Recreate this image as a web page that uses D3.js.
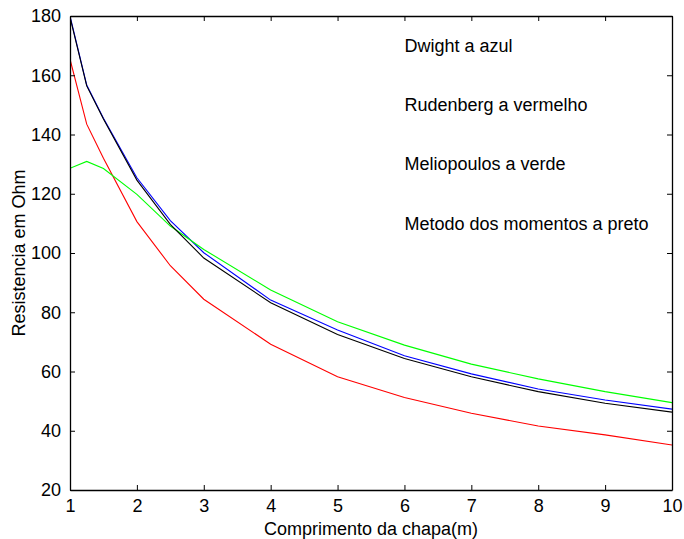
<!DOCTYPE html>
<html>
<head>
<meta charset="utf-8">
<script src="https://cdn.jsdelivr.net/npm/d3@7"></script>
<style>
  body { margin: 0; background: #fff; }
  svg { display: block; font-family: "Liberation Sans", Arial, sans-serif; }
</style>
</head>
<body>
<svg id="chart"></svg>
<script>
// comprimento da chapa (m)
const comprimento = [1, 1.25, 1.5, 2, 2.5, 3, 4, 5, 6, 7, 8, 9, 10];

// resistencia em Ohm
const dwight      = [180, 156.7, 145.5, 125.4, 110.9, 100.1, 84.1, 74.0, 65.3, 59.2, 54.1, 50.4, 47.3];
const rudenberg   = [165.4, 143.5, 132.0, 110.6, 95.7, 84.4, 69.2, 58.2, 51.2, 45.9, 41.6, 38.6, 35.2];
const meliopoulos = [128.6, 130.9, 128.5, 119.8, 109.1, 101.2, 87.5, 76.8, 68.9, 62.5, 57.5, 53.2, 49.5];
const momentos    = [179.6, 156.4, 145.2, 124.6, 109.7, 98.3, 83.2, 72.5, 64.4, 58.2, 53.2, 49.3, 46.3];

const xTicks = [1, 2, 3, 4, 5, 6, 7, 8, 9, 10];
const yTicks = [20, 40, 60, 80, 100, 120, 140, 160, 180];

const legendLabels = ["Dwight a azul", "Rudenberg a vermelho", "Meliopoulos a verde", "Metodo dos momentos a preto"];
const legendY = [170, 150, 130, 110];

const width = 684, height = 539;
const margin = {top: 16, right: 12, bottom: 49, left: 70};
const fontSize = 18;

const svg = d3.select("#chart")
    .attr("width", width)
    .attr("height", height);

const x = d3.scaleLinear()
    .domain([1, 10])
    .range([margin.left, width - margin.right]);

const y = d3.scaleLinear()
    .domain([20, 180])
    .range([height - margin.bottom, margin.top]);

svg.append("defs").append("clipPath")
        .attr("id", "plot-clip")
    .append("rect")
        .attr("x", margin.left)
        .attr("y", margin.top)
        .attr("width", x(10) - x(1))
        .attr("height", y(20) - y(180));

const line = d3.line()
    .x((d, i) => x(comprimento[i]))
    .y(d => y(d));

const series = [
    {values: dwight, color: "#0000ff"},
    {values: rudenberg, color: "#ff0000"},
    {values: meliopoulos, color: "#00ff00"},
    {values: momentos, color: "#000000"}
];

svg.append("g")
        .attr("clip-path", "url(#plot-clip)")
    .selectAll("path")
    .data(series)
    .enter()
    .append("path")
        .attr("d", s => line(s.values))
        .attr("fill", "none")
        .attr("stroke", s => s.color)
        .attr("stroke-width", 1.1);

// matlab style box: ticks inward on all four sides
const tickLen = 5;
const axisBottom = d3.axisBottom(x).tickValues(xTicks).tickSizeInner(-tickLen).tickSizeOuter(0).tickPadding(9);
const axisTop = d3.axisTop(x).tickValues(xTicks).tickSizeInner(-tickLen).tickSizeOuter(0).tickFormat("");
const axisLeft = d3.axisLeft(y).tickValues(yTicks).tickSizeInner(-tickLen).tickSizeOuter(0).tickPadding(9);
const axisRight = d3.axisRight(y).tickValues(yTicks).tickSizeInner(-tickLen).tickSizeOuter(0).tickFormat("");

svg.append("g").attr("transform", `translate(0,${y(20)})`).call(axisBottom).classed("axis", true);
svg.append("g").attr("transform", `translate(0,${y(180)})`).call(axisTop).classed("axis", true);
svg.append("g").attr("transform", `translate(${x(1)},0)`).call(axisLeft).classed("axis", true);
svg.append("g").attr("transform", `translate(${x(10)},0)`).call(axisRight).classed("axis", true);

svg.selectAll(".axis path")
    .attr("stroke", "#000")
    .attr("stroke-width", 1.3);
svg.selectAll(".axis line")
    .attr("stroke", "#000")
    .attr("stroke-width", 1);
svg.selectAll(".axis text")
    .attr("font-family", "'Liberation Sans', Arial, sans-serif")
    .attr("font-size", fontSize)
    .attr("fill", "#000");

svg.selectAll(".legend-text")
    .data(legendLabels)
    .enter()
    .append("text")
        .classed("legend-text", true)
        .attr("x", x(6))
        .attr("y", (d, i) => y(legendY[i]))
        .attr("dy", "0.35em")
        .attr("font-size", fontSize)
        .text(d => d);

svg.append("text")
    .attr("x", (x(1) + x(10)) / 2)
    .attr("y", 535)
    .attr("font-size", fontSize)
    .style("text-anchor", "middle")
    .text("Comprimento da chapa(m)");

svg.append("text")
    .attr("transform", `translate(25,${(y(20) + y(180)) / 2}) rotate(-90)`)
    .attr("font-size", fontSize)
    .style("text-anchor", "middle")
    .text("Resistencia em Ohm");
</script>
</body>
</html>
